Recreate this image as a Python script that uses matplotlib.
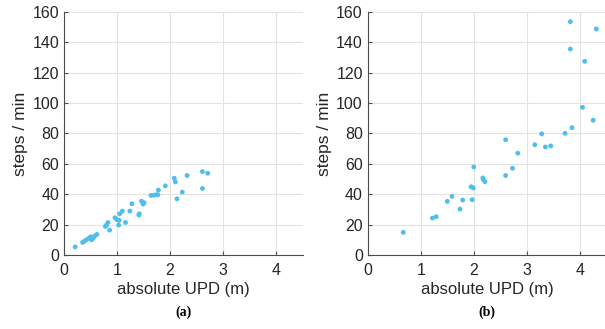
import matplotlib
matplotlib.use("Agg")
import matplotlib.pyplot as plt

plt.rcParams['font.family'] = ['Liberation Sans', 'DejaVu Sans']

xa = [0.21, 0.35, 0.38, 0.42, 0.47, 0.50, 0.52, 0.55, 0.58, 0.62,
      0.78, 0.80, 0.83, 0.86, 0.96, 1.00, 1.03, 1.04, 1.05, 1.10,
      1.16, 1.24, 1.28, 1.41, 1.42, 1.46, 1.49, 1.51, 1.64, 1.70,
      1.74, 1.77, 1.78, 1.91, 2.08, 2.10, 2.13, 2.23, 2.32, 2.61,
      2.61, 2.71]
ya = [5.3, 8.3, 9.0, 10.0, 11.0, 12.0, 10.0, 11.0, 12.5, 13.5,
      18.8, 19.7, 21.4, 16.4, 24.5, 23.2, 19.7, 22.8, 27.1, 28.9,
      21.4, 28.9, 33.7, 26.3, 27.1, 35.4, 33.5, 34.4, 39.2, 39.4,
      39.6, 39.6, 42.7, 45.5, 50.5, 48.1, 37.0, 41.4, 52.3, 54.9,
      43.8, 53.8]

xb = [0.67, 1.22, 1.29, 1.50, 1.59, 1.74, 1.79, 1.95, 1.97, 1.99,
      2.00, 2.17, 2.18, 2.21, 2.60, 2.60, 2.73, 2.83, 3.15, 3.28,
      3.35, 3.45, 3.72, 3.82, 3.82, 3.85, 4.05, 4.09, 4.25, 4.31]
yb = [14.9, 24.3, 25.2, 35.3, 38.6, 30.2, 36.2, 44.9, 36.4, 44.1,
      57.9, 50.7, 49.6, 48.3, 75.9, 52.3, 57.1, 67.0, 72.6, 79.7,
      71.1, 71.8, 80.1, 153.6, 135.6, 83.8, 97.2, 127.5, 88.7, 148.8]

xticks = [0, 1, 2, 3, 4]
yticks = [0, 20, 40, 60, 80, 100, 120, 140, 160]
xlabel = "absolute UPD (m)"
ylabel = "steps / min"
captions = ["(a)", "(b)"]

color = "#4DBEEE"

fig = plt.figure(figsize=(6.05, 3.29), dpi=100)
axes = [fig.add_axes([0.1058, 0.225, 0.3945, 0.7386]),
        fig.add_axes([0.6078, 0.225, 0.3945, 0.7386])]

for ax, x, y, cap in zip(axes, [xa, xb], [ya, yb], captions):
    ax.scatter(x, y, s=12, color=color, edgecolors='none', zorder=3)
    ax.set_xlim(0, 4.5)
    ax.set_ylim(0, 160)
    ax.set_xticks(xticks)
    ax.set_yticks(yticks)
    ax.grid(True, color='#e3e3e3', linewidth=0.8)
    ax.set_axisbelow(True)
    for s in ['top', 'right']:
        ax.spines[s].set_visible(False)
    for s in ['left', 'bottom']:
        ax.spines[s].set_color('#4d4d4d')
        ax.spines[s].set_linewidth(0.8)
    ax.tick_params(direction='in', length=3, colors='#4d4d4d',
                   labelcolor='#262626', labelsize=11.5)
    ax.tick_params(axis='x', pad=6)
    ax.set_xlabel(xlabel, fontsize=12, color='#262626', labelpad=3)
    ax.set_ylabel(ylabel, fontsize=12.5, color='#262626', labelpad=3)
    ax.text(0.5, -0.235, cap, transform=ax.transAxes, ha='center', va='center',
            fontsize=10, fontweight='bold', family='Liberation Serif')

fig.savefig("out.png", dpi=100)
